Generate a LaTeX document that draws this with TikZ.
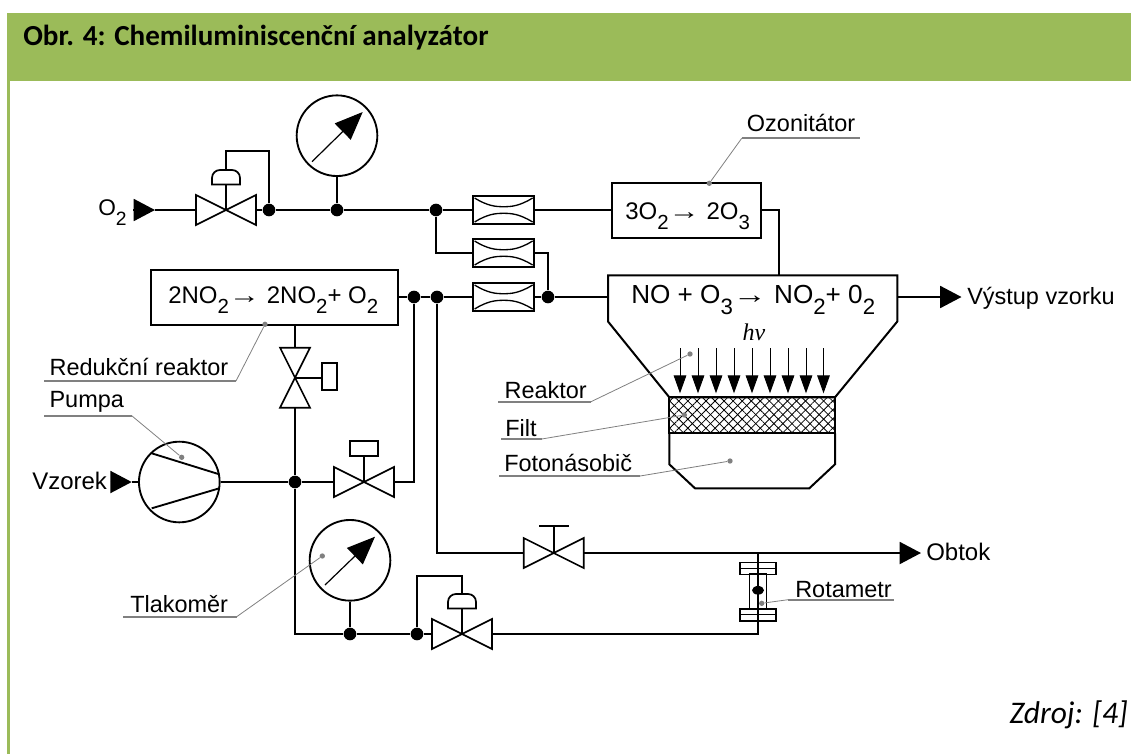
\documentclass[tikz,border=0pt]{standalone}
\usepackage{fontspec}
\setmainfont{Liberation Sans}
\newfontfamily\captionfont{Carlito}
\newfontfamily\photonfont{Liberation Serif}
\usetikzlibrary{arrows.meta,patterns.meta,shapes.geometric}
\definecolor{headgreen}{HTML}{9BBB59}
\definecolor{notegray}{HTML}{808080}
\newcommand{\dolni}[1]{\raisebox{-.45em}{\scalebox{.85}{#1}}}
\newcommand{\sipka}{\scalebox{1.3}[1]{→}}
\newcommand{\venturi}[1]{
    \draw [line width=1pt] ([shift={(-29,-12)}]#1.center) .. controls ([shift={(-16,-4)}]#1.center) and ([shift={(-8,-3.3)}]#1.center) .. ([shift={(0,-3.3)}]#1.center) .. controls ([shift={(8,-3.3)}]#1.center) and ([shift={(16,-4)}]#1.center) .. ([shift={(29,-12)}]#1.center);
    \draw [line width=1pt] ([shift={(-29,12)}]#1.center) .. controls ([shift={(-16,4)}]#1.center) and ([shift={(-8,3.3)}]#1.center) .. ([shift={(0,3.3)}]#1.center) .. controls ([shift={(8,3.3)}]#1.center) and ([shift={(16,4)}]#1.center) .. ([shift={(29,12)}]#1.center);
}
\tikzstyle{block} = [rectangle, draw, line width=1.5pt, inner sep=0pt]
\tikzstyle{restrictor} = [block, minimum width=45.5pt, minimum height=20.5pt]
\tikzstyle{flange} = [block, line width=1.2pt, minimum width=26.8pt, minimum height=9pt]
\tikzstyle{junction} = [circle, fill=black, minimum size=9.5pt, inner sep=0pt]
\tikzstyle{gauge} = [circle, draw, line width=1.4pt, minimum size=60.5pt, inner sep=0pt]
\tikzstyle{pipe} = [draw, line width=1.4pt]
\tikzstyle{feed} = [draw, line width=1.4pt, -{Triangle[length=16pt,width=16.5pt]}, shorten >=0pt]
\tikzstyle{needle} = [draw, line width=.9pt, -{Triangle[length=21pt,width=17pt]}]
\tikzstyle{ray} = [draw, line width=.7pt, -{Triangle[length=13.5pt,width=9.5pt]}]
\tikzstyle{leader} = [draw=notegray, line width=.6pt]
\tikzstyle{underline} = [draw=notegray, line width=1.4pt]
\tikzstyle{notedot} = [circle, fill=notegray, minimum size=4pt, inner sep=0pt]
\tikzstyle{note} = [anchor=base west, inner sep=0pt, font=\fontsize{17.6}{20}\selectfont]
\tikzstyle{reaction} = [anchor=base west, inner sep=0pt, font=\fontsize{18}{20}\selectfont]
\tikzset{
  valve/.pic={
    \draw [line width=1.2pt] (-30,-15) -- (30,15) -- (30,-15) -- (-30,15) -- cycle;
    \coordinate (-a) at (-30,0);
    \coordinate (-b) at (30,0);
    \coordinate (-c) at (0,0);
  },
  capvalve/.pic={
    \pic (-v) {valve};
    \draw [line width=1.3pt] (-14,-25.5) -- (-14,-32) .. controls (-14,-37) and (-10,-40) .. (-6,-40)
      -- (6,-40) .. controls (10,-40) and (14,-37) .. (14,-32) -- (14,-25.5) -- cycle;
    \draw [line width=1.3pt] (0,0) -- (0,-25.5);
    \coordinate (-capTop) at (0,-40);
    \coordinate (-a) at (-30,0);
    \coordinate (-b) at (30,0);
  }
}

\begin{document}
\begin{tikzpicture}[x=0.75pt, y=-0.75pt]
    \useasboundingbox (0,0) rectangle (1131,754);

    % Frame
    \fill [headgreen] (7,13) rectangle (1131,81);
    \fill [headgreen] (7,81) rectangle (10,754);
    \node [anchor=base west, inner sep=0pt, font=\captionfont\bfseries\fontsize{21.8}{24}\selectfont] (title) at (23,45) {Obr. 4: Chemiluminiscenční analyzátor};
    \node [anchor=base east, inner sep=0pt, font=\captionfont\itshape\fontsize{23.6}{26}\selectfont] (source) at (1128,723) {Zdroj: [4]};

    % Place nodes
    \node [block, minimum width=111.8pt, minimum height=41.3pt] (ozonizer) at (686.5,210.8) {};
    \node [block, minimum width=185pt, minimum height=41.5pt] (reductor) at (274.3,297.6) {};
    \node [reaction] (ozonizerText) at (625,219) {3O\dolni{2}\sipka{} 2O\dolni{3}};
    \node [reaction] (reductorText) at (168,303) {2NO\dolni{2}\sipka{} 2NO\dolni{2}+ O\dolni{2}};

    \node [restrictor] (restrictorA) at (503.6,210) {};
    \node [restrictor, below of=restrictorA, node distance=32.25pt] (restrictorB) {};
    \node [restrictor, below of=restrictorB, node distance=33pt] (restrictorC) {};
    \venturi{restrictorA}
    \venturi{restrictorB}
    \venturi{restrictorC}

    \pic (valveIn) at (226,210) {capvalve};
    \pic (valveSample) at (364,482) {valve};
    \pic (valveBypass) at (553.7,553) {valve};
    \pic (valveBack) at (462,634) {capvalve};
    \pic [rotate=90] (valveReductor) at (295,377.7) {valve};

    \node [block, minimum width=21pt, minimum height=11.2pt] (solenoid) at (364,448.5) {};
    \node [block, minimum width=11.2pt, minimum height=20pt] (solenoidSide) at (329.2,376.7) {};
    \coordinate (handleL) at (539,526);
    \coordinate (handleR) at (568.7,526);

    \node [gauge] (gaugeTop) at (337,135.7) {};
    \node [gauge] (gaugeLow) at (350,560.3) {};
    \node [gauge] (pump) at (179.3,482) {};

    \node [junction] (jFeed) at (269,210) {};
    \node [junction] (jGauge) at (337,210) {};
    \node [junction] (jSplit) at (436,210) {};
    \node [junction] (jOzone) at (548,297) {};
    \node [junction] (jOutA) at (414,297) {};
    \node [junction] (jOutB) at (437,297) {};
    \node [junction] (jPump) at (295,482) {};
    \node [junction] (jLow) at (350,634) {};
    \node [junction] (jBack) at (417,634) {};

    \node [flange] (flangeTop) at (758,568.3) {};
    \node [flange] (flangeLow) at (758,614.8) {};
    \node [block, line width=1.2pt, minimum width=13pt, minimum height=26pt] (tube) at (758,591.5) {};
    \node [ellipse, fill=black, minimum width=9pt, minimum height=6.5pt, inner sep=0pt] (rotor) at (758,590.3) {};

    % Reactor body
    \coordinate (reactorTL) at (608,275.3);
    \coordinate (reactorTR) at (897.3,275.3);
    \coordinate (filterTL) at (669.3,397.3);
    \coordinate (filterBR) at (835,433.3);
    \path [draw, line width=1.5pt] (reactorTL) -- (608,321.5) -- (filterTL) -- (835,397.3) -- (897.3,321.5) -- (reactorTR) -- cycle;
    \path [preaction={pattern={Lines[angle=45,distance=4.8pt,line width=.6pt]}}, pattern={Lines[angle=-45,distance=4.8pt,line width=.6pt]}] (filterTL) rectangle (filterBR);
    \path [draw, line width=1.5pt] (filterTL) rectangle (filterBR);
    \path [draw, line width=1.5pt] (669.3,433.3) -- (669.3,464.3) -- (695,488.3) -- (809.3,488.3) -- (835,464.3) -- (835,433.3);
    \node [reaction, font=\fontsize{19.6}{22}\selectfont] (reactorText) at (631,303) {NO + O\dolni{3}\sipka{} NO\dolni{2}+ 0\dolni{2}};
    \node [anchor=base, inner sep=0pt, font=\photonfont\itshape\fontsize{18}{20}\selectfont] (photon) at (754,340) {hv};

    \coordinate (ray1) at (680,348.3);
    \coordinate (ray2) at (698,348.3);
    \coordinate (ray3) at (716,348.3);
    \coordinate (ray4) at (734,348.3);
    \coordinate (ray5) at (752,348.3);
    \coordinate (ray6) at (770,348.3);
    \coordinate (ray7) at (788,348.3);
    \coordinate (ray8) at (806,348.3);
    \coordinate (ray9) at (823.5,348.3);
    \path [ray] (ray1) -- ++(0,45);
    \path [ray] (ray2) -- ++(0,45);
    \path [ray] (ray3) -- ++(0,45);
    \path [ray] (ray4) -- ++(0,45);
    \path [ray] (ray5) -- ++(0,45);
    \path [ray] (ray6) -- ++(0,45);
    \path [ray] (ray7) -- ++(0,45);
    \path [ray] (ray8) -- ++(0,45);
    \path [ray] (ray9) -- ++(0,45);

    % Inlets and outlets
    \node [anchor=base west, inner sep=0pt, font=\fontsize{17}{20}\selectfont] (oxygen) at (98,215) {O\dolni{2}};
    \node [note, font=\fontsize{18}{20}\selectfont] (sample) at (32,489) {Vzorek};
    \node [note, font=\fontsize{18}{20}\selectfont] (bypass) at (926,560) {Obtok};
    \node [note] (exhaust) at (967,304) {Výstup vzorku};
    \coordinate (oxygenBase) at (133,210);
    \coordinate (oxygenTip) at (155,210);
    \coordinate (sampleBase) at (110.7,482);
    \coordinate (sampleTip) at (131.7,482);
    \coordinate (bypassBase) at (898,553);
    \coordinate (bypassTip) at (921,553);
    \coordinate (exhaustBase) at (940,297);
    \coordinate (exhaustTip) at (961.5,297);

    % Draw edges
    \path [feed] (oxygenBase) -- (oxygenTip);
    \path [feed] (sampleBase) -- (sampleTip);
    \path [feed] (bypassBase) -- (bypassTip);
    \path [feed] (exhaustBase) -- (exhaustTip);
    \path [pipe] (oxygenTip) -- (valveIn-a);
    \path [pipe] (valveIn-b) -- (jFeed);
    \path [pipe] (jFeed) -- (jGauge);
    \path [pipe] (jGauge) -- (jSplit);
    \path [pipe] (jSplit) -- (restrictorA.west);
    \path [pipe] (jSplit) |- (restrictorB.west);
    \path [pipe] (restrictorA.east) -- (ozonizer.west |- restrictorA.east);
    \path [pipe] (restrictorB.east) -| (jOzone);
    \path [pipe] (restrictorC.east) -- (jOzone);
    \path [pipe] (jOzone) -- (reactorTL |- jOzone);
    \path [pipe] (ozonizer.east |- restrictorA.east) -| (779,275.3);
    \path [pipe] (gaugeTop.south) -- (jGauge);
    \path [pipe] (valveIn-capTop) -- ++(0,-19) -| (jFeed);
    \path [pipe] (reductor.east |- jOutA) -- (jOutA);
    \path [pipe] (jOutA) -- (jOutB);
    \path [pipe] (jOutB) -- (restrictorC.west);
    \path [pipe] (jOutA) |- (valveSample-b);
    \path [pipe] (jOutB) |- (valveBypass-a);
    \path [pipe] (valveBypass-b) -- (bypassBase);
    \path [pipe] (valveBypass-c) -- (valveBypass-c |- handleL);
    \path [pipe] (handleL) -- (handleR);
    \path [pipe] (valveSample-c) -- (solenoid.south);
    \path [pipe] (reactorTR |- jOzone) -- (exhaustBase);
    \path [pipe] (reductor.south -| jPump) -- (valveReductor-b);
    \path [pipe] (valveReductor-a) -- (jPump);
    \path [pipe] (valveReductor-c) -- (solenoidSide.west |- valveReductor-c);
    \path [pipe] (pump.east) -- (jPump);
    \path [pipe] (sampleTip) -- (pump.west);
    \path [pipe] (jPump) -- (valveSample-a);
    \path [pipe] (jPump) |- (jLow);
    \path [pipe] (gaugeLow.south) -- (jLow);
    \path [pipe] (jLow) -- (jBack);
    \path [pipe] (jBack) -- (valveBack-a);
    \path [pipe] (valveBack-capTop) -- ++(0,-18) -| (jBack);
    \path [pipe] (valveBack-b) -| (flangeLow.south);
    \path [pipe, line width=1pt] (flangeLow.south) -- (flangeTop.north);
    \path [pipe] (flangeTop.north) -- (flangeTop.north |- bypassBase);
    \path [draw, line width=.9pt] (flangeTop.west) -- (flangeTop.east);
    \path [draw, line width=.9pt] (flangeLow.west) -- (flangeLow.east);

    \path [needle] ([shift={(-25,26)}]gaugeTop.center) -- ([shift={(25.7,-23.7)}]gaugeTop.center);
    \path [needle] ([shift={(-25,24.7)}]gaugeLow.center) -- ([shift={(25,-23.6)}]gaugeLow.center);

    \coordinate (bladeA) at (151.7,453.3);
    \coordinate (bladeB) at (219.3,474.3);
    \coordinate (bladeC) at (151.7,508.3);
    \coordinate (bladeD) at (219.3,488.3);
    \path [pipe] (bladeA) -- (bladeB);
    \path [pipe] (bladeC) -- (bladeD);

    % Callouts
    \node [note] (ozonizerNote) at (746.7,131) {Ozonitátor};
    \node [note] (reductorNote) at (49.3,375) {Redukční reaktor};
    \node [note] (pumpNote) at (49.3,407.7) {Pumpa};
    \node [note] (reactorNote) at (504.3,398.3) {Reaktor};
    \node [note] (filterNote) at (505,436) {Filt};
    \node [note] (multiplierNote) at (504,471.7) {Fotonásobič};
    \node [note] (gaugeNote) at (130,612.3) {Tlakoměr};
    \node [note] (rotameterNote) at (795,597.3) {Rotametr};

    \node [notedot] (ozonizerDot) at (709.3,183.3) {};
    \node [notedot] (reductorDot) at (265,324.3) {};
    \node [notedot] (pumpDot) at (181.7,457.3) {};
    \node [notedot] (reactorDot) at (690,354) {};
    \node [notedot] (filterDot) at (684.3,415) {};
    \node [notedot] (multiplierDot) at (730,461) {};
    \node [notedot] (gaugeDot) at (322.3,556) {};
    \node [notedot] (rotameterDot) at (761.7,603.3) {};

    \coordinate (ozonizerA) at (741.7,138.3);
    \coordinate (ozonizerB) at (860,138.3);
    \coordinate (reductorA) at (236,381);
    \coordinate (reductorB) at (44,381);
    \coordinate (pumpA) at (131.7,415.7);
    \coordinate (pumpB) at (44,415.7);
    \coordinate (reactorA) at (591,401.7);
    \coordinate (reactorB) at (497.7,401.7);
    \coordinate (filterA) at (541.7,439);
    \coordinate (filterB) at (500.7,439);
    \coordinate (multiplierA) at (640,476);
    \coordinate (multiplierB) at (499,476);
    \coordinate (gaugeA) at (236.7,616.7);
    \coordinate (gaugeB) at (123.3,616.7);
    \coordinate (rotameterA) at (788,599.7);
    \coordinate (rotameterB) at (893.7,599.7);

    \path [leader] (ozonizerDot) -- (ozonizerA);
    \path [underline] (ozonizerA) -- (ozonizerB);
    \path [leader] (reductorDot) -- (reductorA);
    \path [underline] (reductorA) -- (reductorB);
    \path [leader] (pumpDot) -- (pumpA);
    \path [underline] (pumpA) -- (pumpB);
    \path [leader] (reactorDot) -- (reactorA);
    \path [underline] (reactorA) -- (reactorB);
    \path [leader] (filterDot) -- (filterA);
    \path [underline] (filterA) -- (filterB);
    \path [leader] (multiplierDot) -- (multiplierA);
    \path [underline] (multiplierA) -- (multiplierB);
    \path [leader] (gaugeDot) -- (gaugeA);
    \path [underline] (gaugeA) -- (gaugeB);
    \path [leader] (rotameterDot) -- (rotameterA);
    \path [underline] (rotameterA) -- (rotameterB);
\end{tikzpicture}
\end{document}
